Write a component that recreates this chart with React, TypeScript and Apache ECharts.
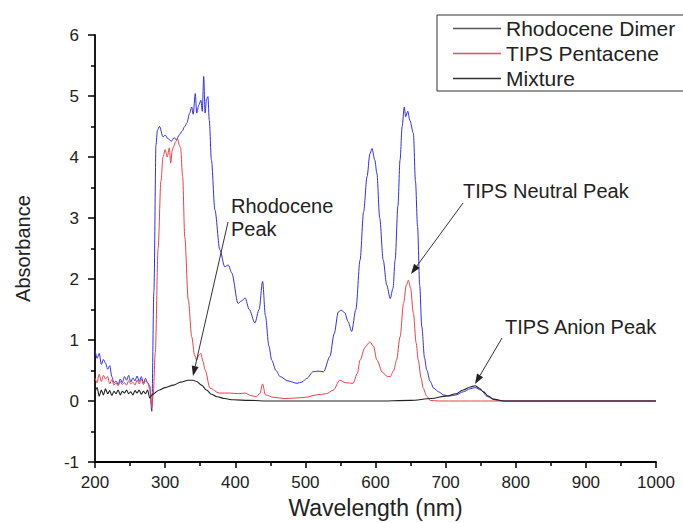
import React, { useEffect, useRef } from "react";
import * as echarts from "echarts";

// Rhodocene Dimer (blue)
const dimerX = [200,203,206,209,212,215,218,221,224,227,230,233,236,239,242,245,248,251,254,257,260,263,266,269,272,275,278,281,284,287,289,292,297,300,304,309,313,316,320,324,328,331,335,338,340,343,345,348,351,353,355,357,359,361,363,366,371,378,385,390,395,404,409,414,420,428,434,439,443,448,452,458,464,475,488,495,502,511,518,526,535,541,547,551,556,561,566,572,578,583,588,592,595,599,602,606,611,616,621,625,628,632,635,638,641,643,646,649,654,657,660,663,666,670,673,678,683,690,697,705,715,725,735,742,750,760,770,785,800,850,900,950,1000];
const dimerY = [0.84,0.70,0.78,0.60,0.68,0.62,0.52,0.58,0.40,0.30,0.33,0.27,0.36,0.30,0.40,0.34,0.42,0.31,0.38,0.33,0.41,0.32,0.40,0.29,0.37,0.30,0.25,-0.17,1.8,4.2,4.44,4.5,4.33,4.36,4.3,4.26,4.32,4.28,4.36,4.42,4.5,4.56,4.72,4.82,4.7,5.04,4.72,4.85,4.93,4.75,5.32,4.72,4.95,4.99,4.6,3.95,3.13,2.48,2.2,2.23,2.1,1.6,1.64,1.69,1.5,1.28,1.5,1.96,1.4,0.9,0.67,0.5,0.4,0.33,0.29,0.31,0.37,0.48,0.49,0.48,0.73,1.1,1.46,1.49,1.45,1.3,1.14,1.5,2.31,3.1,3.68,4.05,4.14,3.95,3.73,3.0,2.31,1.9,1.68,1.85,2.31,3.2,3.95,4.5,4.82,4.66,4.75,4.6,4.39,3.6,2.86,1.9,1.22,0.7,0.51,0.32,0.21,0.15,0.1,0.08,0.1,0.15,0.2,0.22,0.18,0.07,0.02,0.0,0.0,0,0,0,0];

// TIPS Pentacene (red)
const tipsX = [200,203,206,209,212,215,218,221,224,227,230,233,236,239,242,245,248,251,254,257,260,263,266,269,272,275,278,281,283,286,290,294,297,300,303,306,308,310,312,315,318,320,322,325,328,333,338,342,345,348,351,354,357,364,377,392,405,414,422,430,435,439,443,455,470,488,500,516,530,540,549,557,568,574,578,585,592,597,602,610,617,621,626,630,635,640,644,647,650,654,658,661,665,668,673,678,690,750,850,1000];
const tipsY = [0.38,0.30,0.44,0.32,0.42,0.36,0.40,0.28,0.35,0.26,0.30,0.25,0.32,0.27,0.30,0.26,0.33,0.28,0.31,0.26,0.34,0.28,0.36,0.27,0.33,0.30,0.2,-0.1,0.1,0.8,2.5,3.6,4.0,4.12,4.0,4.15,3.9,4.1,4.17,4.25,4.3,4.2,4.15,3.68,2.69,1.66,1.05,0.75,0.67,0.75,0.78,0.65,0.51,0.21,0.13,0.13,0.12,0.13,0.09,0.07,0.12,0.28,0.1,0.06,0.04,0.05,0.06,0.1,0.12,0.18,0.34,0.3,0.29,0.45,0.67,0.88,0.97,0.9,0.67,0.47,0.4,0.4,0.5,0.67,1.05,1.6,1.9,1.98,1.85,1.44,0.95,0.67,0.38,0.21,0.08,0.01,0,0,0,0];

// Mixture (black)
const mixX = [200,203,206,209,212,215,218,221,224,227,230,233,236,239,242,245,248,251,254,257,260,263,266,269,272,275,278,281,292,300,312,322,333,340,345,352,359,366,374,385,397,420,450,500,550,600,650,680,700,715,725,735,742,748,754,761,768,782,850,1000];
const mixY = [0.15,0.22,0.08,0.18,0.10,0.20,0.12,0.17,0.09,0.16,0.12,0.18,0.10,0.16,0.13,0.18,0.12,0.15,0.10,0.17,0.13,0.18,0.11,0.16,0.12,0.18,0.05,0.1,0.18,0.22,0.26,0.31,0.34,0.34,0.32,0.26,0.18,0.11,0.07,0.04,0.02,0.01,0,0,0,0,0.01,0.04,0.08,0.12,0.18,0.23,0.25,0.21,0.15,0.08,0.03,0,0,0];

const seriesNames = ["Rhodocene Dimer", "TIPS Pentacene", "Mixture"];
const legendIconColors = ["#555555", "#e0506a", "#333333"];
const xAxisName = "Wavelength (nm)";
const yAxisName = "Absorbance";

const FONT = "'Liberation Sans', Arial, sans-serif";

function arrow(x1: number, y1: number, x2: number, y2: number): any[] {
  const dx = x2 - x1;
  const dy = y2 - y1;
  const len = Math.sqrt(dx * dx + dy * dy);
  const ux = dx / len;
  const uy = dy / len;
  const hl = 10;
  const hw = 3.5;
  const bx = x2 - ux * hl;
  const by = y2 - uy * hl;
  return [
    { type: "line", shape: { x1, y1, x2: bx, y2: by }, style: { stroke: "#333", lineWidth: 1 }, z: 100 },
    {
      type: "polygon",
      shape: { points: [[x2, y2], [bx - uy * hw, by + ux * hw], [bx + uy * hw, by - ux * hw]] },
      style: { fill: "#222" },
      z: 100,
    },
  ];
}

export default function App() {
  const ref = useRef<HTMLDivElement>(null);
  useEffect(() => {
    const chart = echarts.init(ref.current!, null, { renderer: "svg" });
    const zip = (xs: number[], ys: number[]) => xs.map((x, i) => [x, ys[i]]);
    const textStyle = { fontFamily: FONT, fontSize: 20, fill: "#222" };
    chart.setOption({
      animation: false,
      backgroundColor: "#ffffff",
      grid: { left: 95, right: 27, top: 35, bottom: 61, containLabel: false, outerBoundsMode: "none" },
      legend: {
        orient: "vertical",
        left: 437,
        top: 15,
        padding: [3, 20, 2, 16],
        itemGap: 4,
        itemWidth: 48,
        itemHeight: 1.5,
        icon: "rect",
        borderColor: "#333",
        borderWidth: 1,
        borderRadius: 0,
        textStyle: { fontFamily: FONT, fontSize: 21, color: "#222", lineHeight: 21 },
        data: seriesNames.map((name, i) => ({
          name,
          itemStyle: { color: legendIconColors[i], borderWidth: 0 },
        })),
      },
      xAxis: {
        type: "value",
        min: 200,
        max: 1000,
        interval: 100,
        name: xAxisName,
        nameLocation: "middle",
        nameGap: 34,
        nameTextStyle: { fontFamily: FONT, fontSize: 23, color: "#222" },
        axisLine: { onZero: false, lineStyle: { color: "#000", width: 1.8 } },
        axisTick: { show: true, length: 6, lineStyle: { color: "#000", width: 1.5 } },
        minorTick: { show: true, splitNumber: 2, length: 4, lineStyle: { color: "#000", width: 1.5 } },
        axisLabel: { fontFamily: FONT, fontSize: 17, color: "#222", margin: 12, formatter: (v: number) => String(v) },
        splitLine: { show: false },
      },
      yAxis: {
        type: "value",
        min: -1,
        max: 6,
        interval: 1,
        name: yAxisName,
        nameLocation: "middle",
        nameGap: 62,
        nameTextStyle: { fontFamily: FONT, fontSize: 20, color: "#222" },
        axisLine: { show: true, onZero: false, lineStyle: { color: "#000", width: 1.8 } },
        axisTick: { show: true, length: 7, lineStyle: { color: "#000", width: 1.5 } },
        minorTick: { show: true, splitNumber: 2, length: 4, lineStyle: { color: "#000", width: 1.5 } },
        axisLabel: { fontFamily: FONT, fontSize: 17, color: "#222", margin: 16, formatter: (v: number) => String(v) },
        splitLine: { show: false },
      },
      series: [
        {
          name: seriesNames[0],
          type: "line",
          data: zip(dimerX, dimerY),
          symbol: "none",
          smooth: 0.3,
          smoothMonotone: "x",
          lineStyle: { color: "#3030e0", width: 1 },
          itemStyle: { color: "#3030e0" },
          z: 2,
        },
        {
          name: seriesNames[1],
          type: "line",
          data: zip(tipsX, tipsY),
          symbol: "none",
          smooth: 0.3,
          smoothMonotone: "x",
          lineStyle: { color: "#e8404a", width: 1 },
          itemStyle: { color: "#e8404a" },
          z: 3,
        },
        {
          name: seriesNames[2],
          type: "line",
          data: zip(mixX, mixY),
          symbol: "none",
          smooth: 0.3,
          smoothMonotone: "x",
          lineStyle: { color: "#222", width: 1.1 },
          itemStyle: { color: "#222" },
          z: 4,
        },
      ],
      graphic: [
        { type: "text", left: 231, top: 194, style: { ...textStyle, text: "Rhodocene\nPeak", lineHeight: 23 }, z: 100 },
        ...arrow(228, 222, 193, 376),
        { type: "text", left: 463, top: 181, style: { ...textStyle, text: "TIPS Neutral Peak" }, z: 100 },
        ...arrow(463, 203, 411, 274),
        { type: "text", left: 505, top: 317, style: { ...textStyle, text: "TIPS Anion Peak" }, z: 100 },
        ...arrow(502, 338, 475, 384),
      ],
    });
    return () => chart.dispose();
  }, []);
  return <div ref={ref} style={{ position: "absolute", left: 0, top: 0, width: 683, height: 523 }} />;
}
